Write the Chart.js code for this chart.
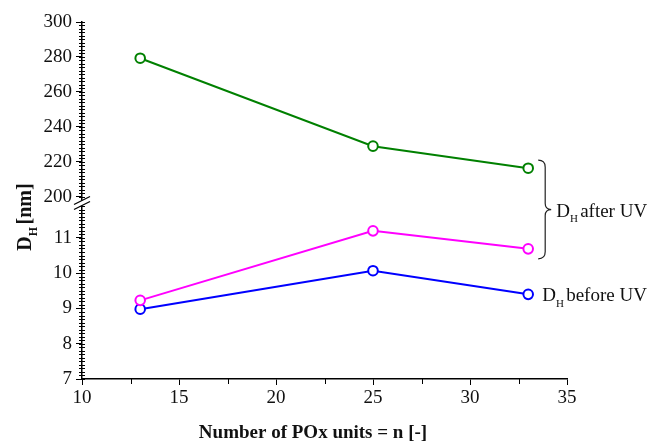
<!DOCTYPE html>
<html>
<head>
<meta charset="utf-8">
<script src="https://cdn.jsdelivr.net/npm/chart.js@4/dist/chart.umd.min.js"></script>
<style>
  html, body { margin: 0; padding: 0; background: #fff; }
  #wrap { width: 651px; height: 442px; position: relative; }
</style>
</head>
<body>
<div id="wrap"><canvas id="chart"></canvas></div>
<script>
// values
const units = [13, 25, 33];
const afterUvHigh = [279.3, 229, 216.4];   // green, upper part of the broken axis
const afterUvLow = [9.23, 11.2, 10.69];    // magenta
const beforeUv = [8.98, 10.07, 9.4];       // blue
const xTicks = [10, 15, 20, 25, 30, 35];
const lowerTicks = [7, 8, 9, 10, 11];
const upperTicks = [200, 220, 240, 260, 280, 300];

const SERIF = "'Liberation Serif', 'Times New Roman', serif";
const INK = "#111";

const toPoints = (ys) => units.map((x, i) => ({ x, y: ys[i] }));

function series(ys, color, axis) {
  return {
    data: toPoints(ys),
    yAxisID: axis,
    borderColor: color,
    borderWidth: 2,
    pointRadius: 4.8,
    pointBorderWidth: 2,
    pointBackgroundColor: "#fff",
    pointBorderColor: color,
    tension: 0,
  };
}

// draws "D" with subscript H, followed by the rest of the label
function drawDH(ctx, x, y, rest, size, bold) {
  const w = bold ? "bold " : "";
  ctx.font = `${w}${size}px ${SERIF}`;
  ctx.fillText("D", x, y);
  let cx = x + ctx.measureText("D").width;
  ctx.font = `${w}${Math.round(size * 0.6)}px ${SERIF}`;
  ctx.fillText("H", cx, y + size * 0.3);
  cx += ctx.measureText("H").width + size * 0.12;
  ctx.font = `${w}${size}px ${SERIF}`;
  ctx.fillText(rest, cx, y);
}

function widthDH(ctx, rest, size, bold) {
  const w = bold ? "bold " : "";
  ctx.font = `${w}${size}px ${SERIF}`;
  let total = ctx.measureText("D").width + ctx.measureText(rest).width + size * 0.12;
  ctx.font = `${w}${Math.round(size * 0.6)}px ${SERIF}`;
  return total + ctx.measureText("H").width;
}

const decorations = {
  id: "decorations",
  afterDraw(chart) {
    const { ctx, scales } = chart;
    const { x, y, y2 } = scales;
    const ax = y.left + y.width; // axis line position
    ctx.save();
    ctx.strokeStyle = "#000";
    ctx.lineWidth = 1;

    // minor ticks on the y scales
    ctx.beginPath();
    for (let v = 7; v <= y.max + 1e-9; v += 0.1) {
      const p = Math.round(y.getPixelForValue(v)) + 0.5;
      ctx.moveTo(ax - 3, p); ctx.lineTo(ax + 3, p);
    }
    for (let v = 200; v <= 300 + 1e-9; v += 2) {
      const p = Math.round(y2.getPixelForValue(v)) + 0.5;
      ctx.moveTo(ax - 3, p); ctx.lineTo(ax + 3, p);
    }
    // minor ticks on x
    for (let v = 12.5; v < 35; v += 5) {
      const p = Math.round(x.getPixelForValue(v)) + 0.5;
      ctx.moveTo(p, x.top); ctx.lineTo(p, x.top + 5);
    }
    ctx.stroke();

    // axis break
    const by = y.top;
    ctx.fillStyle = "#fff";
    ctx.beginPath();
    ctx.moveTo(ax - 8, by + 6.5); ctx.lineTo(ax + 8, by - 1.5);
    ctx.lineTo(ax + 8, by - 6.5); ctx.lineTo(ax - 8, by + 1.5);
    ctx.closePath();
    ctx.fill();
    ctx.lineWidth = 1.3;
    ctx.beginPath();
    ctx.moveTo(ax - 8, by + 6.5); ctx.lineTo(ax + 8, by - 1.5);
    ctx.moveTo(ax - 8, by + 1.5); ctx.lineTo(ax + 8, by - 6.5);
    ctx.stroke();

    ctx.fillStyle = INK;
    ctx.textBaseline = "alphabetic";

    // x title
    ctx.font = `bold 19px ${SERIF}`;
    ctx.textAlign = "center";
    ctx.fillText("Number of POx units = n [-]", 313, 438);

    // y title (rotated)
    ctx.textAlign = "left";
    ctx.save();
    ctx.translate(31, 217);
    ctx.rotate(-Math.PI / 2);
    const tw = widthDH(ctx, "[nm]", 20, true);
    drawDH(ctx, -tw / 2, 0, "[nm]", 20, true);
    ctx.restore();

    // brace grouping the two "after UV" end points
    const lastX = x.getPixelForValue(units[units.length - 1]);
    const top = y2.getPixelForValue(afterUvHigh[afterUvHigh.length - 1]) - 8;
    const bot = y.getPixelForValue(afterUvLow[afterUvLow.length - 1]) + 10;
    const mid = (top + bot) / 2;
    const bx = lastX + 10;
    ctx.strokeStyle = "#222";
    ctx.lineWidth = 1.2;
    ctx.beginPath();
    ctx.moveTo(bx, top);
    ctx.quadraticCurveTo(bx + 7, top, bx + 7, top + 7);
    ctx.lineTo(bx + 7, mid - 6);
    ctx.quadraticCurveTo(bx + 7, mid, bx + 13, mid);
    ctx.quadraticCurveTo(bx + 7, mid, bx + 7, mid + 6);
    ctx.lineTo(bx + 7, bot - 7);
    ctx.quadraticCurveTo(bx + 7, bot, bx, bot);
    ctx.stroke();

    drawDH(ctx, bx + 18, mid + 7, "after UV", 19, false);
    const blueY = y.getPixelForValue(beforeUv[beforeUv.length - 1]);
    drawDH(ctx, lastX + 14, blueY + 7, "before UV", 19, false);

    ctx.restore();
  },
};

const tickFont = { family: SERIF, size: 19 };

new Chart(document.getElementById("chart"), {
  type: "line",
  data: {
    datasets: [
      series(afterUvHigh, "#008000", "y2"),
      series(afterUvLow, "#ff00ff", "y"),
      series(beforeUv, "#0000ff", "y"),
    ],
  },
  options: {
    responsive: true,
    maintainAspectRatio: false,
    animation: false,
    layout: { padding: { top: 22, right: 84, bottom: 0, left: 0 } },
    plugins: { legend: { display: false }, tooltip: { enabled: false } },
    scales: {
      x: {
        type: "linear",
        min: 10,
        max: 35,
        afterBuildTicks: (s) => { s.ticks = xTicks.map((v) => ({ value: v })); },
        afterFit: (s) => { s.height = 63; },
        ticks: { color: INK, font: tickFont, padding: 2, autoSkip: false, maxRotation: 0 },
        grid: { drawOnChartArea: false, drawTicks: true, tickLength: 6, color: "#000" },
        border: { color: "#000", width: 1.5 },
      },
      y: {
        type: "linear",
        position: "left",
        stack: "dh",
        stackWeight: 176,
        min: 7,
        max: 11.99,
        afterBuildTicks: (s) => { s.ticks = lowerTicks.map((v) => ({ value: v })); },
        afterFit: (s) => { s.width = 82; },
        ticks: { color: INK, font: tickFont, padding: 4, autoSkip: false },
        grid: { drawOnChartArea: false, drawTicks: true, tickLength: 6, color: "#000" },
        border: { color: "#000", width: 1.5 },
      },
      y2: {
        type: "linear",
        position: "left",
        stack: "dh",
        stackWeight: 181,
        min: 196.5,
        max: 300,
        afterBuildTicks: (s) => { s.ticks = upperTicks.map((v) => ({ value: v })); },
        afterFit: (s) => { s.width = 82; },
        ticks: { color: INK, font: tickFont, padding: 4, autoSkip: false },
        grid: { drawOnChartArea: false, drawTicks: true, tickLength: 6, color: "#000" },
        border: { color: "#000", width: 1.5 },
      },
    },
  },
  plugins: [decorations],
});
</script>
</body>
</html>
